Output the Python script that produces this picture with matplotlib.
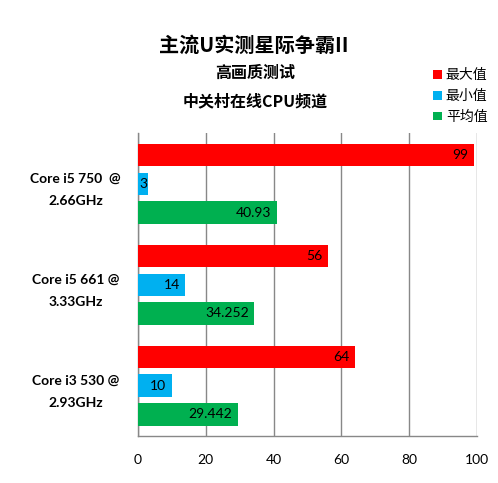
import matplotlib
matplotlib.use("Agg")
import matplotlib.pyplot as plt
import numpy as np

categories = ["Core i5 750  @\n2.66GHz", "Core i5 661 @\n3.33GHz", "Core i3 530 @\n2.93GHz"]
series_names = ["最大值", "最小值", "平均值"]
max_vals = [99, 56, 64]
min_vals = [3, 14, 10]
avg_vals = [40.93, 34.252, 29.442]
value_labels = [["99", "56", "64"], ["3", "14", "10"], ["40.93", "34.252", "29.442"]]
colors = ["#FF0000", "#00B0F0", "#00B050"]
xticks = [0, 20, 40, 60, 80, 100]

plt.rcParams['font.family'] = ['Lato', 'Noto Sans CJK SC', 'DejaVu Sans']

fig = plt.figure(figsize=(4.98, 4.83), dpi=100)
ax = fig.add_axes([0.2771, 0.0973, 0.6807, 0.6273])

series = [max_vals, min_vals, avg_vals]
n = len(categories)
centers = np.arange(n) + 0.5
bar_h = 0.218
step = 0.287
for j, (vals, col) in enumerate(zip(series, colors)):
    ys = centers + (j - 1) * step
    bars = ax.barh(ys, vals, height=bar_h, color=col, label=series_names[j], zorder=3)
    for b, v, lab in zip(bars, vals, value_labels[j]):
        ax.text(v - 1.6 if v > 6 else 0.4, b.get_y() + b.get_height() / 2, lab,
                ha="right" if v > 6 else "left", va="center", fontsize=10,
                color="black", zorder=4)

ax.set_xlim(0, 100)
ax.set_ylim(n, 0)
ax.set_xticks(xticks)
ax.set_xticklabels([str(t) for t in xticks], fontsize=10)
ax.set_yticks(centers)
ax.set_yticklabels(categories, fontsize=10, fontweight="bold", ha="center", linespacing=2.0)
ax.tick_params(axis="y", length=0, pad=45)
ax.tick_params(axis="x", length=0, pad=13)
ax.grid(axis="x", color="#888888", linewidth=1, zorder=0)
for s in ["top", "right"]:
    ax.spines[s].set_visible(False)
for s in ["left", "bottom"]:
    ax.spines[s].set_color("#888888")
    ax.spines[s].set_linewidth(1)

fig.text(0.51, 0.906, "主流U实测星际争霸II", ha="center", va="center",
         fontsize=14.5, fontweight="bold", family=["Noto Sans CJK SC", "DejaVu Sans"])
fig.text(0.512, 0.849, "高画质测试", ha="center", va="center",
         fontsize=11.5, fontweight="bold", family=["Noto Sans CJK SC", "DejaVu Sans"])
fig.text(0.512, 0.791, "中关村在线CPU频道", ha="center", va="center",
         fontsize=11.5, fontweight="bold", family=["Noto Sans CJK SC", "DejaVu Sans"])

leg = fig.legend(loc="upper left", bbox_to_anchor=(0.845, 0.885), frameon=False,
                 prop={"family": ["Noto Sans CJK SC"], "size": 10},
                 handlelength=0.6, handleheight=0.6, handletextpad=0.3, labelspacing=0.5)

fig.savefig("out.png", dpi=100)
